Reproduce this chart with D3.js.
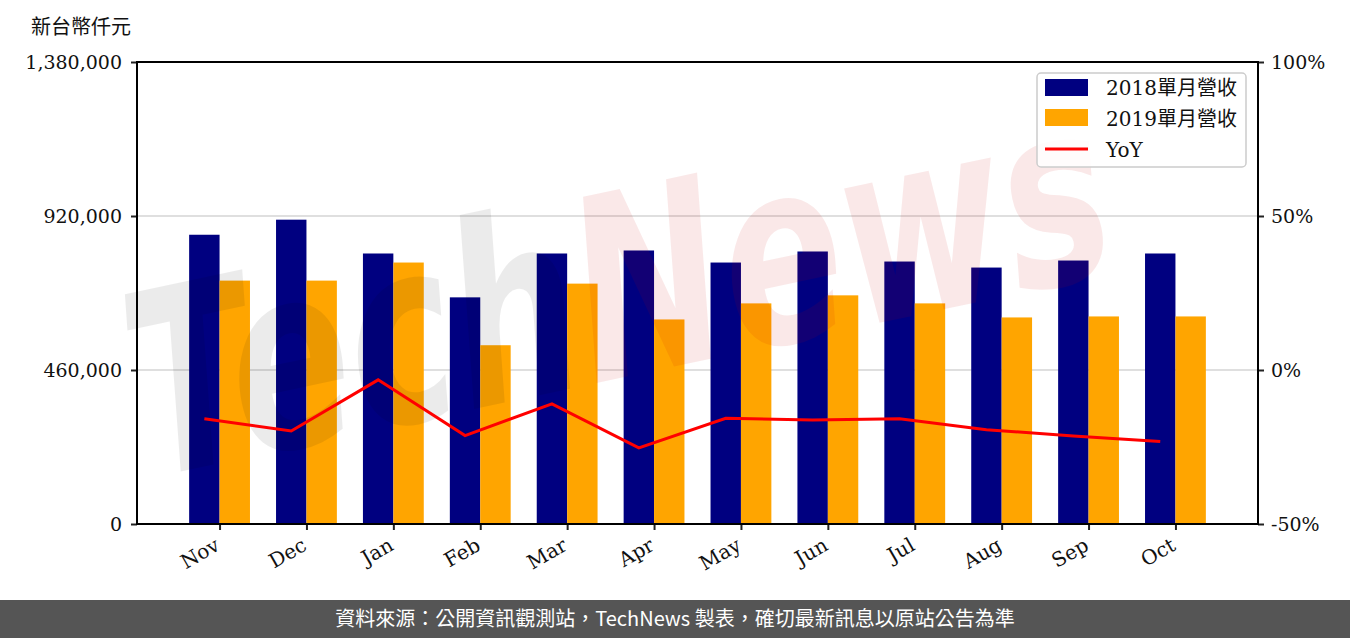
<!DOCTYPE html>
<html><head><meta charset="utf-8">
<script src="https://cdn.jsdelivr.net/npm/d3@7/dist/d3.min.js"></script>
<style>
html,body{margin:0;padding:0;background:#fff;}
svg{display:block;}
</style></head>
<body>
<svg id="chart" width="1350" height="638"></svg>
<script>
const months = ["Nov","Dec","Jan","Feb","Mar","Apr","May","Jun","Jul","Aug","Sep","Oct"];
const rev2018 = [864000, 909000, 808000, 677000, 808000, 817000, 781000, 814000, 784000, 766000, 787000, 808000];
const rev2019 = [727000, 727000, 781000, 534000, 718000, 611000, 659000, 683000, 659000, 617000, 620000, 620000];
const yoy = [-15.8, -19.8, -3.2, -21.3, -11.0, -25.3, -15.7, -16.2, -15.8, -19.4, -21.4, -23.2];
const leftTicks = [0, 460000, 920000, 1380000];
const rightTicks = [-50, 0, 50, 100];
const seriesNames = ["2018單月營收", "2019單月營收", "YoY"];
const unitLabel = "新台幣仟元";
const footerText = "資料來源：公開資訊觀測站，TechNews 製表，確切最新訊息以原站公告為準";

const C18 = "#000080", C19 = "#ffa500", CY = "#ff0000";
const L = 137, R = 1258, T = 62, B = 524;
const numFont = "'DejaVu Serif', 'Noto Sans CJK TC', serif";
const svg = d3.select("#chart");

const x = d3.scaleLinear().domain([-0.95, 11.95]).range([L, R]);
const y = d3.scaleLinear().domain([0, 1380000]).range([B, T]);
const y2 = d3.scaleLinear().domain([-50, 100]).range([B, T]);
const bw = 0.35;

// grid
svg.append("g").selectAll("line").data(leftTicks.slice(1, -1)).join("line")
  .attr("x1", L).attr("x2", R).attr("y1", d => y(d)).attr("y2", d => y(d))
  .attr("stroke", "#d4d4d4").attr("stroke-width", 1.5);

// bars
svg.append("g").selectAll("rect").data(rev2018).join("rect")
  .attr("x", (d, i) => x(i - bw)).attr("width", (d, i) => x(i) - x(i - bw))
  .attr("y", d => y(d)).attr("height", d => B - y(d)).attr("fill", C18);
svg.append("g").selectAll("rect").data(rev2019).join("rect")
  .attr("x", (d, i) => x(i)).attr("width", (d, i) => x(i + bw) - x(i))
  .attr("y", d => y(d)).attr("height", d => B - y(d)).attr("fill", C19);

// watermark
const wm = svg.append("g").attr("transform", "translate(150,478) rotate(-12) scale(0.95,1.35)");
const wt = wm.append("text").attr("font-family", "'DejaVu Sans', sans-serif")
  .attr("font-weight", "bold").attr("font-style", "italic").attr("font-size", 188);
wt.append("tspan").text("Tech").attr("fill", "#000").attr("fill-opacity", 0.08);
wt.append("tspan").text("News").attr("fill", "#c30000").attr("fill-opacity", 0.09);

// yoy line
svg.append("path").datum(yoy)
  .attr("d", d3.line().x((d, i) => x(i - bw / 2)).y(d => y2(d)))
  .attr("fill", "none").attr("stroke", CY).attr("stroke-width", 3);

// axes
const ax = svg.append("g").attr("transform", `translate(0,${B})`)
  .call(d3.axisBottom(x).tickValues(d3.range(months.length)).tickFormat(i => months[i]).tickSize(6).tickPadding(4));
ax.select(".domain").remove();
ax.selectAll(".tick line").attr("stroke", "#222").attr("stroke-width", 2);
ax.selectAll(".tick text").attr("font-family", numFont).attr("font-size", 20).attr("fill", "#111")
  .attr("text-anchor", "end").attr("dy", "0.2em")
  .attr("transform", "translate(-6,13) rotate(-30)");

const ayl = svg.append("g").attr("transform", `translate(${L},0)`)
  .call(d3.axisLeft(y).tickValues(leftTicks).tickFormat(d3.format(",")).tickSize(6).tickPadding(9));
ayl.select(".domain").remove();
ayl.selectAll(".tick line").attr("stroke", "#222").attr("stroke-width", 2);
ayl.selectAll(".tick text").attr("font-family", numFont).attr("font-size", 19).attr("fill", "#111");

const ayr = svg.append("g").attr("transform", `translate(${R},0)`)
  .call(d3.axisRight(y2).tickValues(rightTicks).tickFormat(d => d + "%").tickSize(6).tickPadding(7));
ayr.select(".domain").remove();
ayr.selectAll(".tick line").attr("stroke", "#222").attr("stroke-width", 2);
ayr.selectAll(".tick text").attr("font-family", numFont).attr("font-size", 19).attr("fill", "#111");

// frame
svg.append("rect").attr("x", L).attr("y", T).attr("width", R - L).attr("height", B - T)
  .attr("fill", "none").attr("stroke", "#000").attr("stroke-width", 2);

// unit label
svg.append("text").attr("x", 31).attr("y", 34).text(unitLabel)
  .attr("font-family", "'Noto Sans CJK TC', sans-serif").attr("font-size", 20).attr("fill", "#111");

// legend
const lg = svg.append("g").attr("transform", "translate(1037,73)");
lg.append("rect").attr("width", 209).attr("height", 94).attr("rx", 4)
  .attr("fill", "#fff").attr("fill-opacity", 0.85).attr("stroke", "#cccccc").attr("stroke-width", 1.5);
[C18, C19].forEach((c, k) => {
  lg.append("rect").attr("x", 8).attr("y", 6 + k * 30).attr("width", 43).attr("height", 17).attr("fill", c);
});
lg.append("line").attr("x1", 8).attr("x2", 51).attr("y1", 76).attr("y2", 76).attr("stroke", CY).attr("stroke-width", 3);
seriesNames.forEach((s, k) => {
  lg.append("text").attr("x", 69).attr("y", 22 + k * 31).text(s)
    .attr("font-family", numFont).attr("font-size", 20).attr("fill", "#111");
});

// footer
svg.append("rect").attr("x", 0).attr("y", 600).attr("width", 1350).attr("height", 38).attr("fill", "#555555");
svg.append("text").attr("x", 675).attr("y", 626).attr("text-anchor", "middle").text(footerText)
  .attr("font-family", "'Noto Sans CJK TC', sans-serif").attr("font-size", 20).attr("fill", "#fff");
</script>
</body></html>
